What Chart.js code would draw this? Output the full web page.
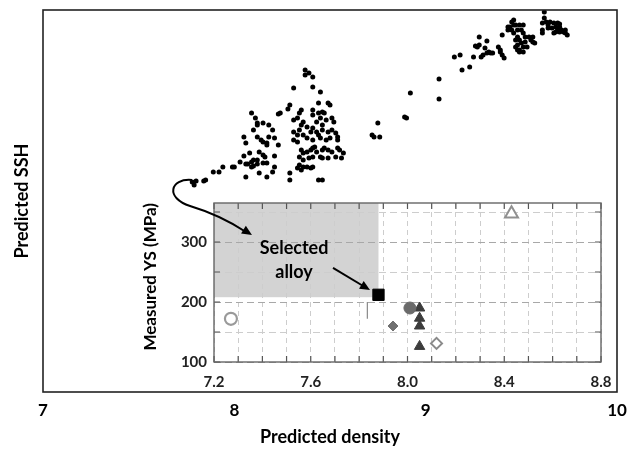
<!DOCTYPE html>
<html>
<head>
<meta charset="utf-8">
<script src="https://cdn.jsdelivr.net/npm/chart.js@4.4.1/dist/chart.umd.min.js"></script>
<style>
  body { margin: 0; background: #fff; }
  #wrap { position: relative; width: 628px; height: 449px; }
  #wrap canvas { position: absolute; left: 0; top: 0; }
</style>
</head>
<body>
<div id="wrap">
  <canvas id="mainChart" width="628" height="449"></canvas>
  <canvas id="insetChart" width="628" height="449"></canvas>
</div>
<script>
// main scatter: predicted density vs predicted SSH (SSH has no tick labels, arbitrary units)
const density = [
  7.78,7.80,7.84,7.79,7.85,7.89,7.92,7.94,7.99,8.00,8.03,8.05,8.06,8.07,8.08,8.09,8.10,8.09,8.10,8.12,
  8.12,8.15,8.17,8.13,8.17,8.20,8.21,8.06,8.05,8.06,8.09,8.11,8.12,8.12,8.15,8.18,8.10,8.12,8.14,8.15,
  8.17,8.18,8.17,8.13,8.15,8.16,8.23,8.21,8.23,
  8.37,8.39,8.37,8.41,8.31,8.41,8.45,8.44,8.49,8.50,8.29,8.28,8.24,8.35,8.34,8.33,8.31,8.36,8.41,8.41,
  8.44,8.46,8.47,8.45,8.48,8.51,8.52,8.43,8.46,8.38,8.35,8.20,8.21,8.31,8.33,8.34,8.36,8.40,8.41,8.43,
  8.44,8.46,8.49,8.51,8.53,8.31,8.33,8.38,8.41,8.45,8.48,8.50,8.54,8.54,8.35,8.36,8.38,8.40,8.41,8.42,
  8.43,8.46,8.47,8.49,8.51,8.54,8.55,8.57,8.56,8.53,8.49,8.46,8.45,8.34,8.36,8.39,8.41,8.34,8.36,8.38,
  8.40,8.41,8.33,8.35,8.29,8.29,8.44,8.46,
  8.75,8.72,8.73,8.76,8.89,8.90,8.92,9.07,9.07,9.15,9.18,9.19,9.23,9.25,9.26,9.27,
  9.28,9.28,9.29,9.30,9.31,9.32,9.32,9.33,9.34,9.35,9.38,9.39,9.39,9.40,9.41,9.40,9.43,9.43,9.44,9.45,
  9.46,9.46,9.45,9.46,9.47,9.48,9.49,9.51,9.50,9.51,9.47,9.49,9.48,9.50,9.52,9.47,9.49,9.51,9.48,9.53,
  9.56,9.56,9.57,9.55,9.49,9.54,9.52,9.48,9.51,
  9.62,9.62,9.61,9.63,9.65,9.64,9.61,9.61,9.67,9.68,9.69,9.70,9.71,9.69,9.67,9.72,9.73,9.74,9.70,9.66,
  9.68,9.73,9.70,9.69,9.64
];
const ssh = [
  210,211,211,207,212,220,220,225,225,225,230,236,228,228,239,230,232,225,226,228,
  232,229,229,219,215,220,225,215,255,249,279,274,269,267,269,267,262,255,252,250,
  249,255,247,240,237,235,247,236,278,
  322,319,317,315,304,305,300,289,289,287,287,283,279,282,279,274,272,270,282,277,
  279,280,279,274,272,274,270,270,267,265,267,262,254,260,257,262,257,260,264,260,
  257,262,260,262,259,252,250,254,252,254,252,254,252,255,242,239,240,242,244,245,
  240,242,244,242,240,244,242,239,234,235,234,234,235,235,232,234,235,227,225,225,
  224,225,224,222,219,212,212,212,
  269,257,255,255,275,274,299,313,293,335,337,322,325,335,346,345,
  355,347,335,337,344,351,339,340,339,339,345,340,342,337,334,357,365,362,365,370,
  372,367,362,359,367,362,367,367,362,359,352,352,347,349,350,345,342,345,342,345,
  355,350,349,352,340,355,355,355,340,
  380,374,369,370,370,367,362,359,369,365,369,365,362,362,359,360,359,357,368,364,
  360,362,360,364,364
];
const mainTicks = [7, 8, 9, 10];

// inset: measured yield strength vs density
const openCircle = [{ x: 7.27, y: 172 }];
const selectedAlloy = [{ x: 7.88, y: 212 }];
const filledDiamond = [{ x: 7.94, y: 160 }];
const filledCircle = [{ x: 8.01, y: 190 }];
const triangleDensity = [8.05, 8.05, 8.05, 8.05];
const triangleYS = [190, 173, 160, 126];
const openDiamond = [{ x: 8.12, y: 131 }];
const openTriangle = [{ x: 8.43, y: 347 }];
const errorBar = [{ x: 7.834, y: 200 }, { x: 7.834, y: 172 }];
const insetXLabels = [7.2, 7.6, 8.0, 8.4, 8.8];
const insetYLabels = [100, 200, 300];
const shadeX = [7.2, 7.88];
const shadeY = [208, 365];

const font = 'Lato, "Open Sans", sans-serif';

const frame = {
  id: 'frame',
  afterDraw(chart) {
    const { ctx, chartArea: a } = chart;
    ctx.save();
    ctx.strokeStyle = '#222';
    ctx.lineWidth = 1.6;
    ctx.strokeRect(a.left, a.top, a.right - a.left, a.bottom - a.top);
    ctx.restore();
  }
};

new Chart(document.getElementById('mainChart'), {
  type: 'scatter',
  data: {
    datasets: [{
      data: density.map((d, i) => ({ x: d, y: ssh[i] })),
      backgroundColor: '#000',
      borderWidth: 0,
      pointRadius: 2.5
    }]
  },
  options: {
    responsive: false,
    animation: false,
    events: [],
    layout: { padding: { top: 10, right: 11, left: 0, bottom: 0 } },
    plugins: { legend: { display: false }, tooltip: { enabled: false } },
    scales: {
      x: {
        type: 'linear', min: 7, max: 10,
        afterFit: s => { s.height = 57; s.paddingLeft = 0; s.paddingRight = 0; },
        grid: { display: false, drawTicks: false },
        border: { display: false },
        afterBuildTicks: s => { s.ticks = mainTicks.map(v => ({ value: v })); },
        ticks: { padding: 8, color: '#000', font: { family: font, size: 17, weight: 'bold' }, callback: v => String(v) },
        title: { display: true, text: 'Predicted density', color: '#000', padding: { top: 4, bottom: 1 },
                 font: { family: font, size: 18, weight: 'bold' } }
      },
      y: {
        min: 0, max: 382,
        afterFit: s => { s.width = 43; },
        grid: { display: false, drawTicks: false },
        border: { display: false },
        ticks: { display: false },
        title: { display: true, text: 'Predicted SSH', color: '#000', padding: { top: 11, bottom: 0 },
                 font: { family: font, size: 18, weight: 'bold' } }
      }
    }
  },
  plugins: [frame]
});

const insetDeco = {
  id: 'insetDeco',
  beforeDraw(chart) {
    const { ctx } = chart;
    const xs = chart.scales.x, ys = chart.scales.y;
    const x0 = xs.getPixelForValue(shadeX[0]), x1 = xs.getPixelForValue(shadeX[1]);
    const y0 = ys.getPixelForValue(shadeY[1]), y1 = ys.getPixelForValue(shadeY[0]);
    ctx.save();
    ctx.fillStyle = '#d3d3d3';
    ctx.fillRect(x0, y0, x1 - x0, y1 - y0);
    ctx.restore();
  },
  afterDraw(chart) {
    const { ctx, chartArea: a } = chart;
    const xs = chart.scales.x, ys = chart.scales.y;
    ctx.save();
    // inward tick marks
    ctx.strokeStyle = '#555';
    ctx.lineWidth = 1.2;
    ctx.beginPath();
    xs.ticks.forEach(t => {
      const px = xs.getPixelForValue(t.value);
      ctx.moveTo(px, a.top); ctx.lineTo(px, a.top + 6);
      ctx.moveTo(px, a.bottom); ctx.lineTo(px, a.bottom - 6);
    });
    ys.ticks.forEach(t => {
      const py = ys.getPixelForValue(t.value);
      ctx.moveTo(a.left, py); ctx.lineTo(a.left + 6, py);
      ctx.moveTo(a.right, py); ctx.lineTo(a.right - 6, py);
    });
    ctx.stroke();
    ctx.strokeStyle = '#666';
    ctx.lineWidth = 1.4;
    ctx.strokeRect(a.left, a.top, a.right - a.left, a.bottom - a.top);

    // annotation text
    const P = (x, y) => [xs.getPixelForValue(x), ys.getPixelForValue(y)];
    ctx.fillStyle = '#000';
    ctx.font = 'bold 18px ' + font;
    ctx.textAlign = 'center';
    ctx.textBaseline = 'middle';
    let p = P(7.531, 290); ctx.fillText('Selected', p[0], p[1]);
    p = P(7.531, 250.5); ctx.fillText('alloy', p[0], p[1]);

    const head = (tip, from) => {
      const ang = Math.atan2(tip[1] - from[1], tip[0] - from[0]);
      const L = 11, W = 0.42;
      ctx.beginPath();
      ctx.moveTo(tip[0], tip[1]);
      ctx.lineTo(tip[0] - L * Math.cos(ang - W), tip[1] - L * Math.sin(ang - W));
      ctx.lineTo(tip[0] - L * Math.cos(ang + W), tip[1] - L * Math.sin(ang + W));
      ctx.closePath();
      ctx.fill();
    };
    ctx.strokeStyle = '#000';
    ctx.lineWidth = 2;

    // straight arrow to the selected alloy
    const s0 = P(7.692, 256.7), s1 = P(7.845, 220);
    ctx.beginPath(); ctx.moveTo(s0[0], s0[1]); ctx.lineTo(s1[0] - 6, s1[1] - 3.5); ctx.stroke();
    head(s1, s0);

    // curved arrow from the low-density end of the main cloud
    const c0 = P(7.109, 403.3), c1 = P(7.018, 406.7), c2 = P(6.997, 373.3), c3 = P(7.101, 360);
    const q1 = P(7.225, 345), q2 = P(7.357, 311.7);
    ctx.beginPath();
    ctx.moveTo(c0[0], c0[1]);
    ctx.bezierCurveTo(c1[0], c1[1], c2[0], c2[1], c3[0], c3[1]);
    ctx.quadraticCurveTo(q1[0], q1[1], q2[0] - 6, q2[1] - 3);
    ctx.stroke();
    head(q2, q1);
    ctx.restore();
  }
};

const tickFont = { family: font, size: 15, weight: 'bold' };

new Chart(document.getElementById('insetChart'), {
  type: 'scatter',
  data: {
    datasets: [
      { data: errorBar, showLine: true, borderColor: '#888', borderWidth: 1.2, pointRadius: 0 },
      { data: openCircle, pointStyle: 'circle', pointRadius: 6, backgroundColor: '#fff', borderColor: '#9a9a9a', borderWidth: 2.2 },
      { data: selectedAlloy, pointStyle: 'rect', pointRadius: 8, backgroundColor: '#000', borderColor: '#000', borderWidth: 1 },
      { data: filledDiamond, pointStyle: 'rectRot', pointRadius: 5, backgroundColor: '#707070', borderColor: '#707070', borderWidth: 1 },
      { data: filledCircle, pointStyle: 'circle', pointRadius: 6, backgroundColor: '#6a6a6a', borderColor: '#6a6a6a', borderWidth: 1 },
      { data: triangleDensity.map((d, i) => ({ x: d, y: triangleYS[i] })), pointStyle: 'triangle', pointRadius: 6,
        backgroundColor: '#3c3c3c', borderColor: '#3c3c3c', borderWidth: 1 },
      { data: openDiamond, pointStyle: 'rectRot', pointRadius: 5.5, backgroundColor: '#fff', borderColor: '#8a8a8a', borderWidth: 2 },
      { data: openTriangle, pointStyle: 'triangle', pointRadius: 7.5, backgroundColor: '#fff', borderColor: '#909090', borderWidth: 2 }
    ]
  },
  options: {
    responsive: false,
    animation: false,
    events: [],
    layout: { padding: { left: 136, top: 203, right: 27, bottom: 54 } },
    plugins: { legend: { display: false }, tooltip: { enabled: false } },
    scales: {
      x: {
        type: 'linear', min: 7.2, max: 8.8,
        afterFit: s => { s.height = 33; s.paddingLeft = 0; s.paddingRight = 0; },
        grid: { color: '#cdcdcd', lineWidth: 1, drawTicks: false },
        border: { display: false, dash: [5, 4] },
        ticks: {
          stepSize: 0.1, autoSkip: false, maxRotation: 0, padding: 11, color: '#222', font: tickFont,
          callback: v => insetXLabels.some(l => Math.abs(l - v) < 1e-6) ? v.toFixed(1) : ''
        }
      },
      y: {
        min: 100, max: 365,
        afterFit: s => { s.width = 78; },
        grid: {
          drawTicks: false, lineWidth: 1,
          color: c => (c.tick && Math.round(c.tick.value) % 100 === 0) ? '#a8a8a8' : '#cdcdcd'
        },
        border: { display: false, dash: [7, 4] },
        ticks: {
          stepSize: 50, includeBounds: false, padding: 7, color: '#222', font: tickFont,
          callback: v => insetYLabels.includes(v) ? String(v) : ''
        },
        title: { display: true, text: 'Measured YS (MPa)', align: 'end', color: '#000', padding: { top: 4, bottom: 0 },
                 font: { family: font, size: 17, weight: 'bold' } }
      }
    }
  },
  plugins: [insetDeco]
});
</script>
</body>
</html>
